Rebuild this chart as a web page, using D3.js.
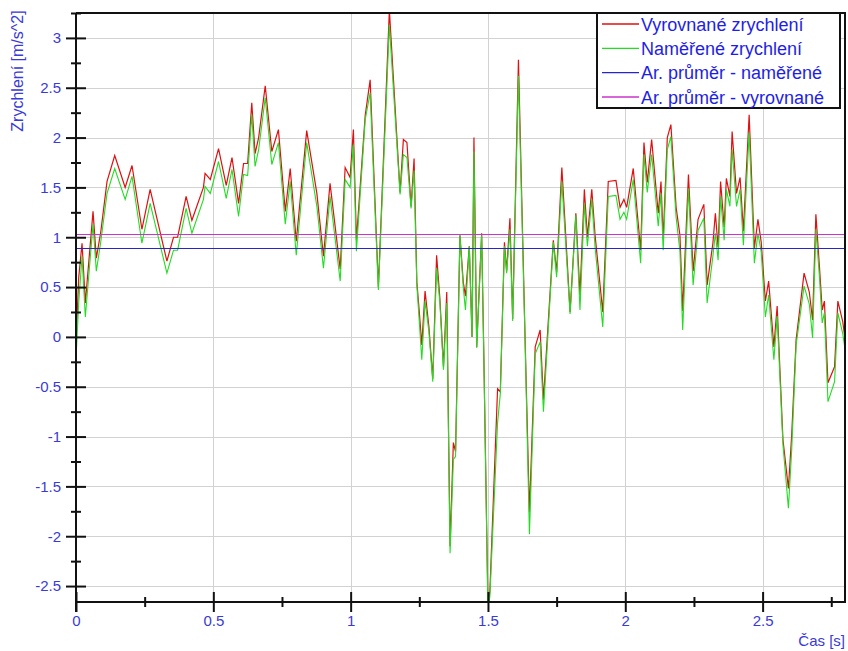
<!DOCTYPE html>
<html>
<head>
<meta charset="utf-8">
<script src="https://cdn.jsdelivr.net/npm/d3@7"></script>
<style>
  html, body { margin: 0; padding: 0; background: #fff; }
  svg { display: block; font-family: "Liberation Sans", Arial, sans-serif; }
</style>
</head>
<body>
<svg id="chart" width="848" height="651"></svg>
<script>
// ---- data ----
const seriesNames = ["Vyrovnané zrychlení", "Naměřené zrychlení", "Ar. průměr - naměřené", "Ar. průměr - vyrovnané"];
const time = [0, 0.01, 0.022, 0.034, 0.062, 0.074, 0.09, 0.113, 0.141, 0.179, 0.204, 0.24, 0.27, 0.331, 0.355, 0.37, 0.401, 0.422, 0.464, 0.47, 0.489,
  0.519, 0.547, 0.568, 0.592, 0.61, 0.625, 0.64, 0.652, 0.665, 0.689, 0.713, 0.737, 0.762, 0.78, 0.802, 0.84, 0.877, 0.901, 0.925, 0.962, 0.98, 0.998,
  1.01, 1.021, 1.053, 1.071, 1.101, 1.141, 1.18, 1.192, 1.205, 1.22, 1.231, 1.241, 1.25, 1.259, 1.271, 1.285, 1.299, 1.313, 1.325, 1.338, 1.35, 1.362,
  1.374, 1.382, 1.398, 1.41, 1.418, 1.432, 1.442, 1.449, 1.459, 1.477, 1.485, 1.5, 1.507, 1.535, 1.545, 1.56, 1.568, 1.58, 1.59, 1.611, 1.635, 1.651,
  1.672, 1.69, 1.702, 1.738, 1.75, 1.769, 1.799, 1.82, 1.835, 1.851, 1.862, 1.878, 1.89, 1.918, 1.938, 1.966, 1.981, 1.995, 2.005, 2.029, 2.056, 2.068,
  2.08, 2.096, 2.12, 2.13, 2.138, 2.153, 2.166, 2.185, 2.199, 2.209, 2.23, 2.247, 2.265, 2.286, 2.298, 2.319, 2.328, 2.338, 2.347, 2.36, 2.368, 2.381,
  2.389, 2.405, 2.418, 2.43, 2.451, 2.47, 2.483, 2.495, 2.51, 2.522, 2.541, 2.553, 2.574, 2.594, 2.606, 2.622, 2.651, 2.67, 2.682, 2.694, 2.707, 2.717,
  2.725, 2.738, 2.762, 2.774, 2.792, 2.8];
const measured = [-0.22, 0.35, 0.81, 0.2, 1.13, 0.66, 0.95, 1.44, 1.69, 1.38, 1.61, 0.94, 1.34, 0.64, 0.87, 0.87, 1.29, 1.04, 1.38, 1.51, 1.44,
  1.76, 1.39, 1.68, 1.21, 1.63, 1.62, 2.23, 1.71, 1.88, 2.4, 1.73, 1.95, 1.13, 1.56, 0.82, 1.95, 1.31, 0.69, 1.41, 0.56, 1.58, 1.5,
  1.93, 0.86, 2.18, 2.45, 0.47, 3.13, 1.43, 1.83, 1.8, 1.29, 1.67, 0.52, 0.15, -0.23, 0.36, 0.05, -0.45, 0.69, 0.34, -0.33, 0.34, -2.17,
  -1.23, -1.2, 1.02, 0.5, 0.27, 0.91, 0.0, 1.86, -0.11, 1.02, -0.2, -2.75, -2.6, -0.86, -0.57, 0.91, 0.64, 1.08, 0.16, 2.62, -0.02, -1.98,
  -0.17, -0.05, -0.75, 0.95, 0.6, 1.56, 0.23, 1.22, 0.27, 1.34, 0.91, 1.38, 0.9, 0.1, 1.41, 1.42, 1.18, 1.25, 1.18, 1.58, 0.74, 1.83,
  1.45, 1.83, 1.11, 1.44, 0.87, 1.88, 2.01, 1.2, 0.86, 0.07, 1.49, 0.52, 1.07, 1.19, 0.34, 0.81, 1.04, 0.77, 1.41, 0.97, 1.48, 1.31,
  1.88, 1.31, 1.48, 0.92, 2.05, 0.74, 1.04, 0.85, 0.2, 0.42, -0.23, 0.21, -1.08, -1.72, -1.13, -0.08, 0.51, 0.33, -0.01, 1.08, 0.6, 0.14,
  0.24, -0.65, -0.45, 0.24, 0.03, -0.12];
const smoothed = [-0.05, 0.6, 0.94, 0.34, 1.26, 0.79, 1.05, 1.56, 1.82, 1.5, 1.72, 1.08, 1.48, 0.76, 1.0, 1.0, 1.41, 1.17, 1.5, 1.64, 1.58,
  1.89, 1.52, 1.8, 1.34, 1.74, 1.74, 2.35, 1.84, 2.0, 2.52, 1.86, 2.08, 1.26, 1.69, 0.96, 2.07, 1.44, 0.81, 1.54, 0.68, 1.7, 1.6,
  2.08, 0.97, 2.22, 2.58, 0.5, 3.28, 1.45, 1.98, 1.95, 1.31, 1.79, 0.55, 0.25, -0.08, 0.46, 0.1, -0.42, 0.82, 0.38, -0.3, 0.45, -2.1,
  -1.06, -1.15, 1.02, 0.55, 0.41, 0.91, 0.0, 2.0, -0.1, 1.04, -0.2, -2.7, -2.55, -0.52, -0.55, 0.95, 0.66, 1.19, 0.18, 2.78, 0.0, -1.76,
  -0.1, 0.07, -0.63, 0.97, 0.65, 1.7, 0.25, 1.24, 0.42, 1.48, 1.0, 1.48, 1.02, 0.25, 1.56, 1.57, 1.3, 1.38, 1.3, 1.69, 0.87, 1.95,
  1.55, 1.98, 1.24, 1.56, 0.98, 2.0, 2.13, 1.3, 1.02, 0.26, 1.63, 0.66, 1.18, 1.33, 0.52, 0.94, 1.24, 0.9, 1.56, 1.1, 1.59, 1.41,
  2.06, 1.44, 1.6, 1.06, 2.23, 0.89, 1.18, 0.95, 0.36, 0.56, -0.1, 0.31, -1.03, -1.52, -0.98, -0.03, 0.64, 0.45, 0.17, 1.23, 0.7, 0.27,
  0.36, -0.46, -0.3, 0.36, 0.15, -0.02];
const meanMeasured = 0.89;
const meanSmoothed = 1.03;
const yTicks = [-2.5, -2, -1.5, -1, -0.5, 0, 0.5, 1, 1.5, 2, 2.5, 3];
const yMinorTicks = [-2.25, -1.75, -1.25, -0.75, -0.25, 0.25, 0.75, 1.25, 1.75, 2.25, 2.75, 3.25];
const xTicks = [0, 0.5, 1, 1.5, 2, 2.5];
const xMinorTicks = [0.25, 0.75, 1.25, 1.75, 2.25, 2.75];
const xLabel = "Čas [s]";
const yLabel = "Zrychlení [m/s^2]";

// ---- layout ----
const svg = d3.select("#chart");
const L = 76, R = 845, T = 13, B = 602;
const x = d3.scaleLinear().domain([0, 2.8]).range([L, R]);
const y = d3.scaleLinear().domain([-2.66, 3.25]).range([B, T]);
const fmt = d => String(d);
const tickColor = "#3a3ad6";
const colors = ["#dd1111", "#22dd22", "#2525c8", "#cc33cc"];

// grid
const grid = svg.append("g");
grid.selectAll("line.hg").data(yTicks).join("line")
  .attr("x1", L).attr("x2", R).attr("y1", d => Math.round(y(d)) + 0.5).attr("y2", d => Math.round(y(d)) + 0.5)
  .attr("stroke", "#d2d2d2").attr("stroke-width", 1);
grid.selectAll("line.vg").data(xTicks.filter(d => d > 0)).join("line")
  .attr("y1", T).attr("y2", B).attr("x1", d => Math.round(x(d)) + 0.5).attr("x2", d => Math.round(x(d)) + 0.5)
  .attr("stroke", "#d2d2d2").attr("stroke-width", 1);

// clip
svg.append("clipPath").attr("id", "clip").append("rect")
  .attr("x", L).attr("y", T).attr("width", R - L).attr("height", B - T);

const pts = time.map((t, i) => ({ t, g: measured[i], r: smoothed[i] }));
const plot = svg.append("g").attr("clip-path", "url(#clip)");
plot.append("path").datum(pts)
  .attr("fill", "none").attr("stroke", colors[0]).attr("stroke-width", 1.2)
  .attr("d", d3.line().x(d => x(d.t)).y(d => y(d.r)));
plot.append("path").datum(pts)
  .attr("fill", "none").attr("stroke", colors[1]).attr("stroke-width", 1.1)
  .attr("d", d3.line().x(d => x(d.t)).y(d => y(d.g)));

// mean lines
plot.append("line").attr("x1", L).attr("x2", R)
  .attr("y1", Math.round(y(meanMeasured)) + 0.5).attr("y2", Math.round(y(meanMeasured)) + 0.5)
  .attr("stroke", colors[2]).attr("stroke-width", 1);
plot.append("line").attr("x1", L).attr("x2", R)
  .attr("y1", Math.round(y(meanSmoothed)) + 0.5).attr("y2", Math.round(y(meanSmoothed)) + 0.5)
  .attr("stroke", colors[3]).attr("stroke-width", 1);

// frame: top and right
svg.append("line").attr("x1", L).attr("x2", R + 1).attr("y1", T).attr("y2", T).attr("stroke", "#111").attr("stroke-width", 2);
svg.append("line").attr("x1", R).attr("x2", R).attr("y1", T).attr("y2", B).attr("stroke", "#111").attr("stroke-width", 2);

// y axis
const yAxis = d3.axisLeft(y).tickValues(yTicks).tickFormat(fmt).tickSizeInner(10).tickSizeOuter(0).tickPadding(5);
const yg = svg.append("g").attr("transform", `translate(${L},0)`).call(yAxis);
yg.select(".domain").attr("stroke", "#111").attr("stroke-width", 2).attr("d", `M0,${T}V${B + 10}`);
yg.selectAll(".tick line").attr("stroke", "#111").attr("stroke-width", 2).attr("x1", 10).attr("x2", -10);
yg.selectAll(".tick text").attr("fill", tickColor).style("font-size", "15px").attr("x", -15);
const yMinor = d3.axisLeft(y).tickValues(yMinorTicks).tickFormat("").tickSizeInner(5).tickSizeOuter(0);
const ymg = svg.append("g").attr("transform", `translate(${L},0)`).call(yMinor);
ymg.select(".domain").remove();
ymg.selectAll(".tick line").attr("stroke", "#111").attr("stroke-width", 2).attr("x1", 5).attr("x2", -5);

// x axis
const xAxis = d3.axisBottom(x).tickValues(xTicks).tickFormat(fmt).tickSizeInner(10).tickSizeOuter(0).tickPadding(5);
const xg = svg.append("g").attr("transform", `translate(0,${B})`).call(xAxis);
xg.select(".domain").attr("stroke", "#111").attr("stroke-width", 2).attr("d", `M${L},0H${R + 1}`);
xg.selectAll(".tick line").attr("stroke", "#111").attr("stroke-width", 2).attr("y1", -10).attr("y2", 10);
xg.selectAll(".tick text").attr("fill", tickColor).style("font-size", "15px").attr("y", 13);
const xMinor = d3.axisBottom(x).tickValues(xMinorTicks).tickFormat("").tickSizeInner(5).tickSizeOuter(0);
const xmg = svg.append("g").attr("transform", `translate(0,${B})`).call(xMinor);
xmg.select(".domain").remove();
xmg.selectAll(".tick line").attr("stroke", "#111").attr("stroke-width", 2).attr("y1", -5).attr("y2", 5);

// axis labels
svg.append("text").attr("x", R).attr("y", 646).attr("text-anchor", "end")
  .attr("fill", tickColor).style("font-size", "15px").text(xLabel);
svg.append("text").attr("transform", "translate(23,71) rotate(-90)").attr("text-anchor", "middle")
  .attr("fill", tickColor).style("font-size", "16px").text(yLabel);

// legend (drawn last, on top of everything)
const legend = svg.append("g");
legend.append("rect").attr("x", 597).attr("y", 13).attr("width", 243).attr("height", 95)
  .attr("fill", "#ffffff").attr("stroke", "#111").attr("stroke-width", 2);
const rowY = d3.scalePoint().domain(seriesNames).range([24, 97]);
seriesNames.forEach((name, i) => {
  const yy = rowY(name);
  legend.append("line").attr("x1", 602).attr("x2", 639).attr("y1", yy).attr("y2", yy)
    .attr("stroke", colors[i]).attr("stroke-width", 1.3);
  legend.append("text").attr("x", 641).attr("y", yy + 6.5).attr("fill", "#1e1ee6")
    .style("font-size", "18px").text(name);
});
</script>
</body>
</html>
